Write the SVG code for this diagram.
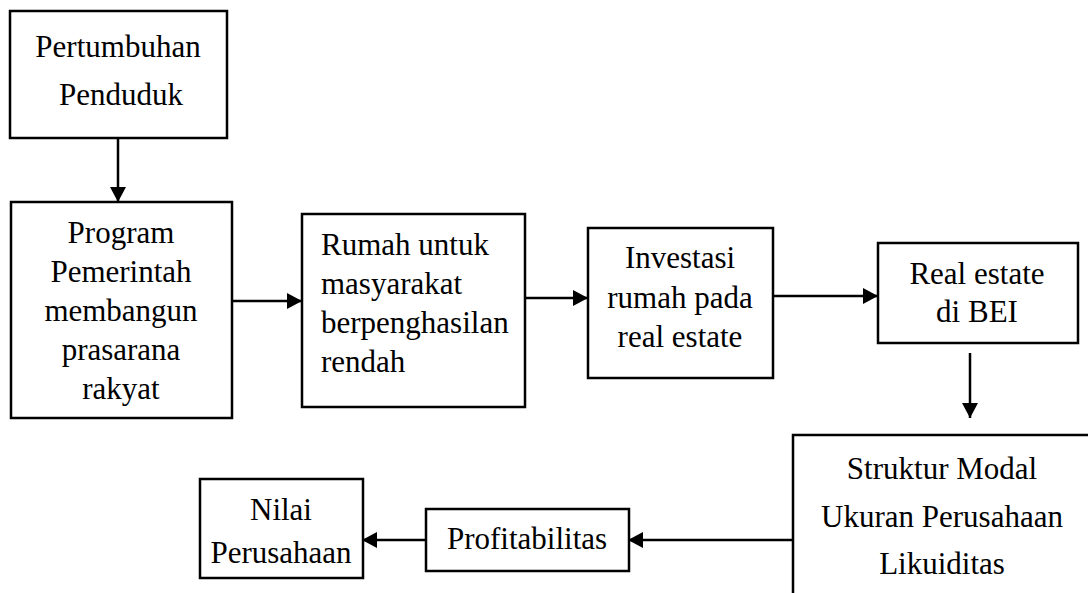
<svg xmlns="http://www.w3.org/2000/svg" width="1088" height="593" viewBox="0 0 1088 593">
<style>
.box{fill:#fff;stroke:#000;stroke-width:2.5}
.t{font-family:"Liberation Serif","Times New Roman",serif;font-size:31px;fill:#000}
.c{text-anchor:middle}
.ln{stroke:#000;stroke-width:2.5;fill:none;marker-end:url(#ah)}
</style>
<defs>
<marker id="ah" markerUnits="userSpaceOnUse" markerWidth="16" markerHeight="16" refX="15" refY="8" orient="auto">
<path d="M0,0 L15,8 L0,16 Z" fill="#000"/>
</marker>
</defs>
<rect width="1088" height="593" fill="#fff"/>
<g id="connectors">
<line class="ln" x1="118" y1="138" x2="118" y2="202"/>
<line class="ln" x1="232" y1="301" x2="302" y2="301"/>
<line class="ln" x1="525" y1="298" x2="588" y2="298"/>
<line class="ln" x1="773" y1="296" x2="878" y2="296"/>
<line class="ln" x1="970" y1="353" x2="970" y2="418"/>
<line class="ln" x1="793" y1="540" x2="628" y2="540"/>
<line class="ln" x1="426" y1="540" x2="362" y2="540"/>
</g>
<g id="n1">
<rect class="box" x="10" y="11" width="217" height="127"/>
<text class="t c" x="118" y="57">Pertumbuhan</text>
<text class="t c" x="121" y="105">Penduduk</text>
</g>
<g id="n2">
<rect class="box" x="11" y="202" width="221" height="216"/>
<text class="t c" x="121" y="243">Program</text>
<text class="t c" x="121" y="282">Pemerintah</text>
<text class="t c" x="121" y="321">membangun</text>
<text class="t c" x="121" y="360">prasarana</text>
<text class="t c" x="121" y="399">rakyat</text>
</g>
<g id="n3">
<rect class="box" x="302" y="214" width="223" height="193"/>
<text class="t" x="321" y="255">Rumah untuk</text>
<text class="t" x="321" y="294">masyarakat</text>
<text class="t" x="321" y="333">berpenghasilan</text>
<text class="t" x="321" y="372">rendah</text>
</g>
<g id="n4">
<rect class="box" x="588" y="228" width="185" height="150"/>
<text class="t c" x="680" y="268">Investasi</text>
<text class="t c" x="680" y="308">rumah pada</text>
<text class="t c" x="680" y="347">real estate</text>
</g>
<g id="n5">
<rect class="box" x="878" y="243" width="200" height="100"/>
<text class="t c" x="977" y="284">Real estate</text>
<text class="t c" x="977" y="322">di BEI</text>
</g>
<g id="n6">
<path class="box" d="M793,593 L793,435 L1090,435"/>
<text class="t c" x="942" y="479">Struktur Modal</text>
<text class="t c" x="942" y="527">Ukuran Perusahaan</text>
<text class="t c" x="942" y="574">Likuiditas</text>
</g>
<g id="n7">
<rect class="box" x="426" y="509" width="203" height="62"/>
<text class="t c" x="527" y="549">Profitabilitas</text>
</g>
<g id="n8">
<rect class="box" x="200" y="479" width="163" height="99"/>
<text class="t c" x="281" y="520">Nilai</text>
<text class="t c" x="281" y="563">Perusahaan</text>
</g>
</svg>
